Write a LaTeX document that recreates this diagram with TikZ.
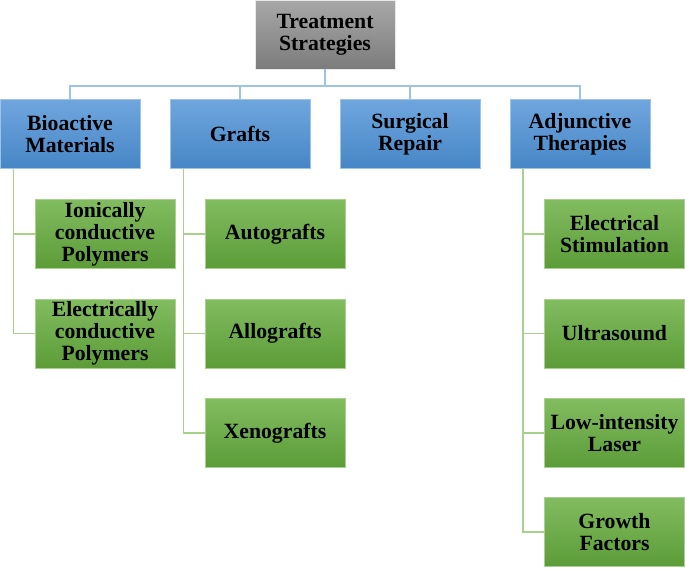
\documentclass[tikz,border=0pt]{standalone}
\usepackage{fontspec}
\setmainfont{Liberation Serif}
\usepackage{tikz}
\usetikzlibrary{positioning}
\definecolor{grayTop}{HTML}{A8A8A8}
\definecolor{grayBot}{HTML}{7C7C7C}
\definecolor{blueTop}{HTML}{70A6DE}
\definecolor{blueBot}{HTML}{4686C6}
\definecolor{greenTop}{HTML}{82BC60}
\definecolor{greenBot}{HTML}{5C9C38}
\definecolor{blueLine}{HTML}{9DC3E6}
\definecolor{greenLine}{HTML}{A9D18E}

\begin{document}
\begin{tikzpicture}[x=0.75pt, y=-0.75pt,
    box/.style={rectangle, minimum width=105pt, minimum height=51.75pt, inner sep=1pt,
        align=center, font=\fontsize{16.3}{16.6}\selectfont\bfseries, line width=0.6pt},
    rootbox/.style={box, top color=grayTop, bottom color=grayBot, draw=white!75!grayTop},
    catbox/.style={box, top color=blueTop, bottom color=blueBot, draw=blueLine},
    itembox/.style={box, top color=greenTop, bottom color=greenBot, draw=greenLine},
    bline/.style={draw=blueLine, line width=1.1pt},
    gline/.style={draw=greenLine, line width=1.1pt}]
    \useasboundingbox (0,0) rectangle (685,568);

    % Root
    \node [rootbox] (root) at (325,34.5) {Treatment\\Strategies};

    % Categories
    \node [catbox] (bio) at (70,134) {Bioactive\\Materials};
    \node [catbox] (grafts) at (240,134) {Grafts};
    \node [catbox] (surg) at (410,134) {Surgical\\Repair};
    \node [catbox] (adj) at (580,134) {Adjunctive\\Therapies};

    % Items
    \node [itembox] (ionic) at (105,234) {Ionically\\conductive\\Polymers};
    \node [itembox] (elec) at (105,333.5) {Electrically\\conductive\\Polymers};

    \node [itembox] (auto) at (275,234) {Autografts};
    \node [itembox] (allo) at (275,333.5) {Allografts};
    \node [itembox] (xeno) at (275,433) {Xenografts};

    \node [itembox] (stim) at (614.5,234) {Electrical\\Stimulation};
    \node [itembox] (ultra) at (614.5,333.5) {Ultrasound};
    \node [itembox] (laser) at (614.5,433) {Low-intensity\\Laser};
    \node [itembox] (growth) at (614.5,532) {Growth\\Factors};

    % Connectors
    \coordinate (bus) at (325,86);
    \draw [bline] (root.south) -- (bus);
    \foreach \c in {bio, grafts, surg, adj}
        \draw [bline] (bus) -| (\c.north);

    \foreach \c in {ionic, elec}
        \draw [gline] ([xshift=10.5pt]bio.south west) |- (\c.west);
    \foreach \c in {auto, allo, xeno}
        \draw [gline] ([xshift=10.5pt]grafts.south west) |- (\c.west);
    \foreach \c in {stim, ultra, laser, growth}
        \draw [gline] ([xshift=10pt]adj.south west) |- (\c.west);

\end{tikzpicture}
\end{document}
